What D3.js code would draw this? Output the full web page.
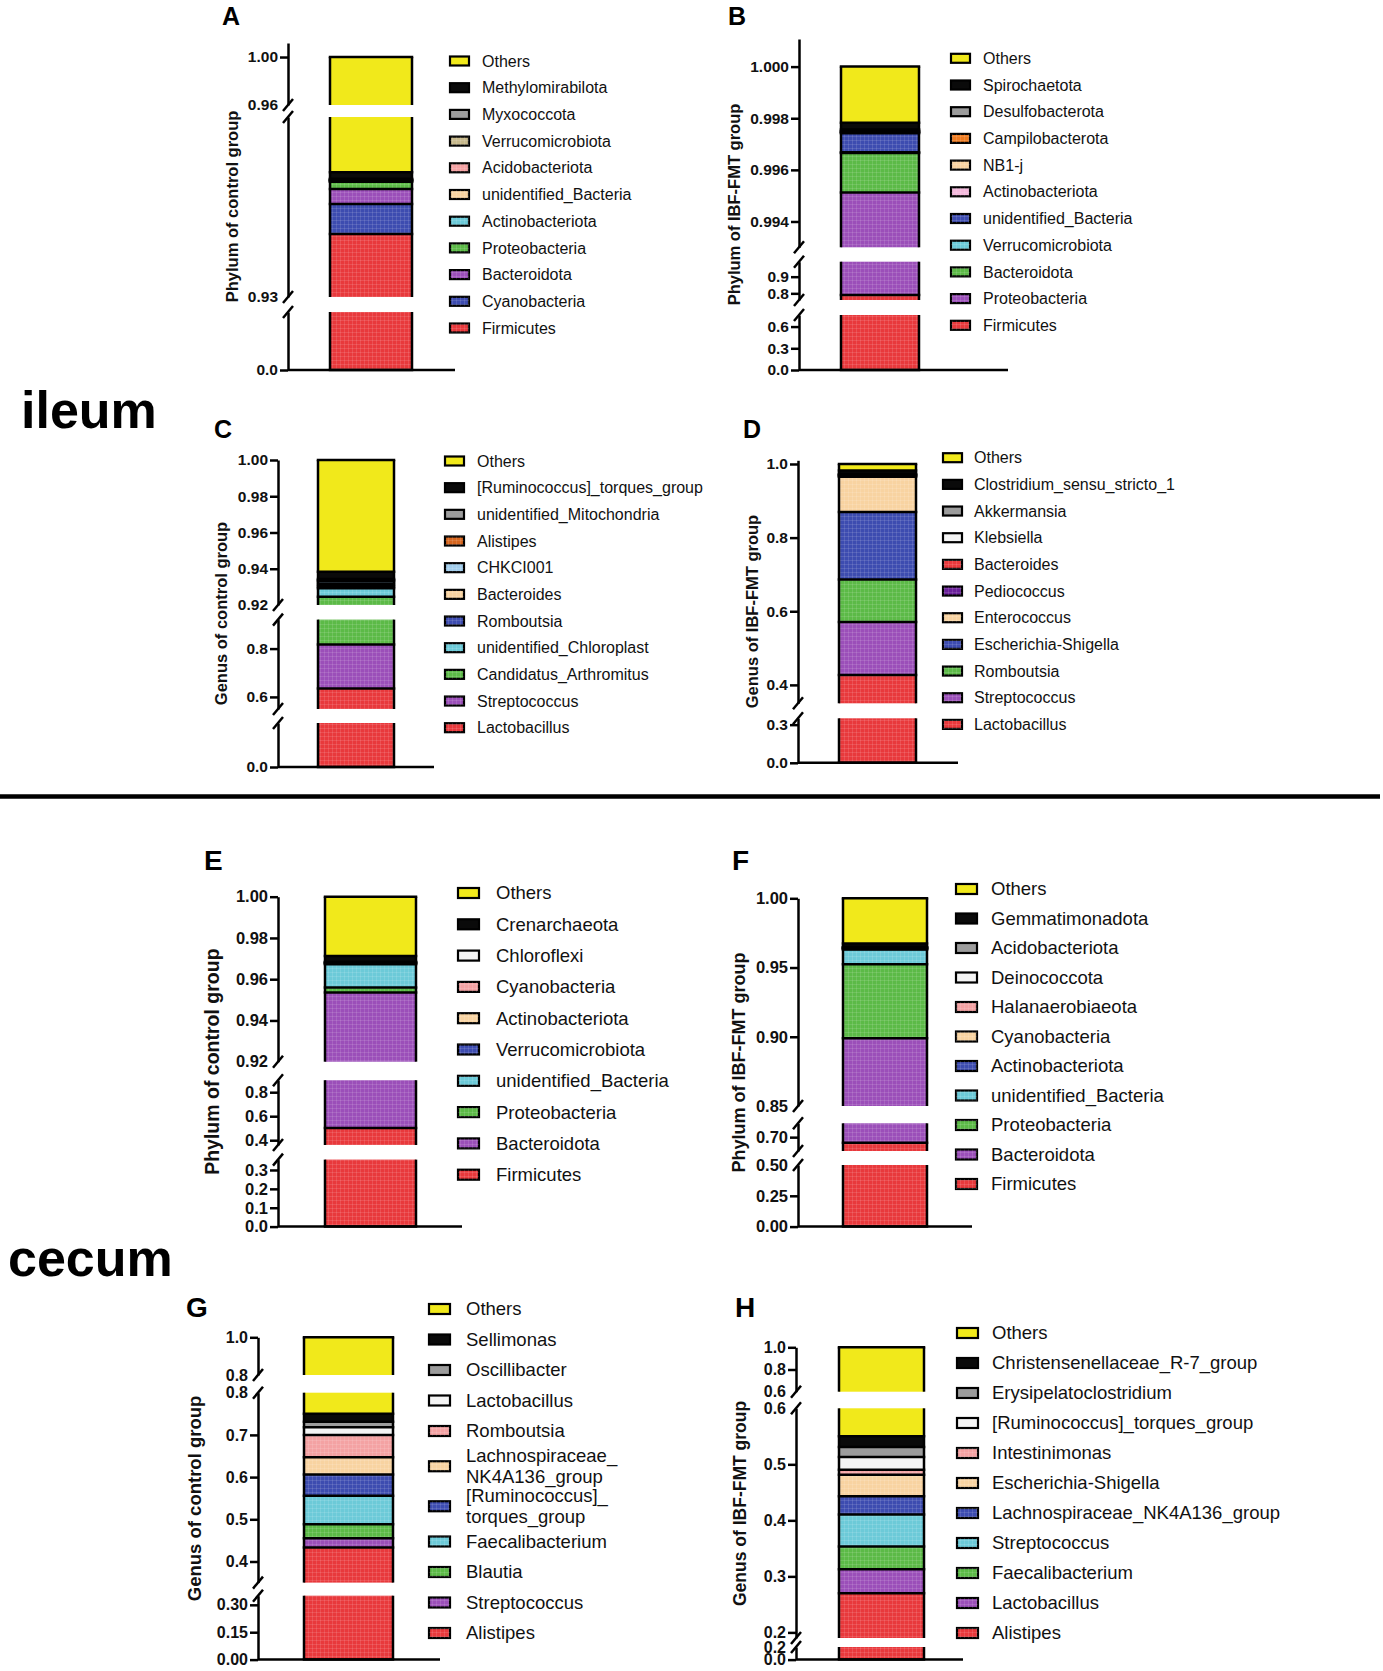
<!DOCTYPE html>
<html lang="en">
<head>
    <meta charset="utf-8">
    <style>
        body { margin: 0; background: #fff; }
        svg { display: block; }
    </style>
</head>
<body>
    <svg></svg>
    <script src="https://cdn.jsdelivr.net/npm/d3@7/dist/d3.min.js"></script>
    <script>
        /************************************************************************************
        * Data (stack order bottom -> top, legend is drawn top -> bottom)
        ************************************************************************************/
        // A: ileum, phylum, control
        const aCategories = ["Firmicutes", "Cyanobacteria", "Bacteroidota", "Proteobacteria", "Actinobacteriota",
            "unidentified_Bacteria", "Acidobacteriota", "Verrucomicrobiota", "Myxococcota", "Methylomirabilota", "Others"];
        const aValues = [0.9405, 0.0050, 0.0025, 0.0012, 0.0001, 0.0001, 0.0001, 0.0001, 0.0001, 0.0011, 0.0492];
        const aTickLabels = [["1.00", "0.96"], ["0.93"], ["0.0"]];

        // B: ileum, phylum, IBF-FMT
        const bCategories = ["Firmicutes", "Proteobacteria", "Bacteroidota", "Verrucomicrobiota", "unidentified_Bacteria",
            "Actinobacteriota", "NB1-j", "Campilobacterota", "Desulfobacterota", "Spirochaetota", "Others"];
        const bValues = [0.79, 0.20512, 0.00153, 0.00003, 0.00074, 0.00003, 0.00003, 0.00003, 0.00005, 0.00027, 0.00217];
        const bTickLabels = [["1.000", "0.998", "0.996", "0.994"], ["0.9", "0.8"], ["0.6", "0.3", "0.0"]];

        // C: ileum, genus, control
        const cCategories = ["Lactobacillus", "Streptococcus", "Candidatus_Arthromitus", "unidentified_Chloroplast",
            "Romboutsia", "Bacteroides", "CHKCI001", "Alistipes", "unidentified_Mitochondria",
            "[Ruminococcus]_torques_group", "Others"];
        const cValues = [0.635, 0.1816, 0.1080, 0.0046, 0.0012, 0.0012, 0.0014, 0.0006, 0.0008, 0.0040, 0.0616];
        const cTickLabels = [["1.00", "0.98", "0.96", "0.94", "0.92"], ["0.8", "0.6"], ["0.0"]];

        // D: ileum, genus, IBF-FMT
        const dCategories = ["Lactobacillus", "Streptococcus", "Romboutsia", "Escherichia-Shigella", "Enterococcus",
            "Pediococcus", "Bacteroides", "Klebsiella", "Akkermansia", "Clostridium_sensu_stricto_1", "Others"];
        const dValues = [0.427, 0.144, 0.115, 0.1837, 0.0958, 0.002, 0.002, 0.002, 0.002, 0.0085, 0.018];
        const dTickLabels = [["1.0", "0.8", "0.6", "0.4"], ["0.3", "0.0"]];

        // E: cecum, phylum, control
        const eCategories = ["Firmicutes", "Bacteroidota", "Proteobacteria", "unidentified_Bacteria", "Verrucomicrobiota",
            "Actinobacteriota", "Cyanobacteria", "Chloroflexi", "Crenarchaeota", "Others"];
        const eValues = [0.5025, 0.4510, 0.0025, 0.0113, 0.0003, 0.0003, 0.0003, 0.0003, 0.0028, 0.0287];
        const eTickLabels = [["1.00", "0.98", "0.96", "0.94", "0.92"], ["0.8", "0.6", "0.4"], ["0.3", "0.2", "0.1", "0.0"]];

        // F: cecum, phylum, IBF-FMT
        const fCategories = ["Firmicutes", "Bacteroidota", "Proteobacteria", "unidentified_Bacteria", "Actinobacteriota",
            "Cyanobacteria", "Halanaerobiaeota", "Deinococcota", "Acidobacteriota", "Gemmatimonadota", "Others"];
        const fValues = [0.680, 0.219, 0.0534, 0.0106, 0.0004, 0.0004, 0.0004, 0.0004, 0.0004, 0.0023, 0.0327];
        const fTickLabels = [["1.00", "0.95", "0.90", "0.85"], ["0.70"], ["0.50", "0.25", "0.00"]];

        // G: cecum, genus, control
        const gCategories = ["Alistipes", "Streptococcus", "Blautia", "Faecalibacterium", "[Ruminococcus]_torques_group",
            "Lachnospiraceae_NK4A136_group", "Romboutsia", "Lactobacillus", "Oscillibacter", "Sellimonas", "Others"];
        const gValues = [0.433, 0.022, 0.033, 0.068, 0.050, 0.041, 0.053, 0.018, 0.013, 0.019, 0.250];
        const gTickLabels = [["1.0", "0.8"], ["0.8", "0.7", "0.6", "0.5", "0.4"], ["0.30", "0.15", "0.00"]];

        // H: cecum, genus, IBF-FMT
        const hCategories = ["Alistipes", "Lactobacillus", "Faecalibacterium", "Streptococcus",
            "Lachnospiraceae_NK4A136_group", "Escherichia-Shigella", "Intestinimonas", "[Ruminococcus]_torques_group",
            "Erysipelatoclostridium", "Christensenellaceae_R-7_group", "Others"];
        const hValues = [0.270, 0.0425, 0.041, 0.057, 0.0325, 0.0385, 0.009, 0.0225, 0.018, 0.019, 0.450];
        const hTickLabels = [["1.0", "0.8", "0.6"], ["0.6", "0.5", "0.4", "0.3", "0.2"], ["0.2", "0.0"]];

        const axisTitles = ["Phylum of control group", "Phylum of IBF-FMT group", "Genus of control group",
            "Genus of IBF-FMT group"];

        /************************************************************************************
        * Styles
        ************************************************************************************/
        const FONT = "'Liberation Sans', Arial, Helvetica, sans-serif";
        const col = {
            red: "#e8393c", purple: "#9b4fb9", blue: "#3d4cb0", green: "#5cba47", cyan: "#6ccad8",
            peach: "#f8d3a1", pink: "#f4a2a3", khaki: "#c7b98c", gray: "#9c9c9c", black: "#0a0a0a",
            yellow: "#f1e91b", orange: "#ee7a1f", rust: "#d6661f", sky: "#a2cdec", lilac: "#f4b9dc",
            violet: "#6a1f9a", white: "#f4f4f4"
        };
        const plain = new Set([col.yellow, col.black, col.white, col.gray]);
        const std = [col.red, col.purple, col.green, col.cyan, col.blue, col.peach, col.pink, col.white, col.gray, col.black, col.yellow];

        /************************************************************************************
        * Panel layout (pixel geometry only)
        ************************************************************************************/
        const small = { fs: 16, tickFs: 15.5, titleFs: 16.5, letterFs: 25, swW: 21, swH: 9 };
        const large = { fs: 18.5, tickFs: 16.5, titleFs: 18, letterFs: 28, swW: 23, swH: 10 };

        const panels = [
            { ...small, letter: "A", cats: aCategories, vals: aValues, ticks: aTickLabels, title: axisTitles[0],
              colors: [col.red, col.blue, col.purple, col.green, col.cyan, col.peach, col.pink, col.khaki, col.gray, col.black, col.yellow],
              lx: 222, ly: 25, axisX: 288, barX: [330, 412], xEnd: 455, titleX: 232,
              segs: [{ dom: [0.96, 1.0117], px: [105, 43] }, { dom: [0.93, 0.96], px: [297, 117] }, { dom: [0, 0.93], px: [370, 312] }],
              legX: 449, legTextX: 482, legY: 61, legStep: 26.7 },
            { ...small, letter: "B", cats: bCategories, vals: bValues, ticks: bTickLabels, title: axisTitles[1],
              colors: [col.red, col.purple, col.green, col.cyan, col.blue, col.lilac, col.peach, col.orange, col.gray, col.black, col.yellow],
              lx: 728, ly: 25, axisX: 799, barX: [841, 919], xEnd: 1008, titleX: 734,
              segs: [{ dom: [0.993, 1.00107], px: [247.3, 39] }, { dom: [0.76, 0.99], px: [300, 261.7] }, { dom: [0, 0.76], px: [370, 315] }],
              legX: 950, legTextX: 983, legY: 58.3, legStep: 26.7 },
            { ...small, letter: "C", cats: cCategories, vals: cValues, ticks: cTickLabels, title: axisTitles[2],
              colors: [col.red, col.purple, col.green, col.cyan, col.blue, col.peach, col.sky, col.rust, col.gray, col.black, col.yellow],
              lx: 214, ly: 438, axisX: 278, barX: [318, 394], xEnd: 434, titleX: 221,
              segs: [{ dom: [0.92, 1.0], px: [605, 460] }, { dom: [0.55, 0.92], px: [709, 619.6] }, { dom: [0, 0.55], px: [767, 723] }],
              legX: 444, legTextX: 477, legY: 461, legStep: 26.67 },
            { ...small, letter: "D", cats: dCategories, vals: dValues, ticks: dTickLabels, title: axisTitles[3],
              colors: [col.red, col.purple, col.green, col.blue, col.peach, col.violet, col.red, col.white, col.gray, col.black, col.yellow],
              lx: 743, ly: 438, axisX: 798, barX: [839, 916], xEnd: 958, titleX: 752,
              segs: [{ dom: [0.35, 1.01], px: [703.3, 460.3] }, { dom: [0, 0.35], px: [762.8, 718.3] }],
              legX: 942, legTextX: 974, legY: 457.7, legStep: 26.67 },
            { ...large, letter: "E", cats: eCategories, vals: eValues, ticks: eTickLabels, title: axisTitles[0],
              colors: [col.red, col.purple, col.green, col.cyan, col.blue, col.peach, col.pink, col.white, col.black, col.yellow],
              titleFs: 19.5,
              lx: 204, ly: 870, axisX: 278, barX: [325, 416], xEnd: 462, titleX: 212,
              segs: [{ dom: [0.92, 1.0], px: [1061.7, 896.7] }, { dom: [0.36, 0.9], px: [1145, 1080.2] }, { dom: [0, 0.355], px: [1226.6, 1159.6] }],
              legX: 457, legTextX: 496, legY: 893, legStep: 31.3 },
            { ...large, letter: "F", cats: fCategories, vals: fValues, ticks: fTickLabels, title: axisTitles[1],
              colors: [col.red, col.purple, col.green, col.cyan, col.blue, col.peach, col.pink, col.white, col.gray, col.black, col.yellow],
              lx: 732, ly: 870, axisX: 798, barX: [843, 927], xEnd: 972, titleX: 739,
              segs: [{ dom: [0.85, 1.0], px: [1106, 898.3] }, { dom: [0.65, 0.75], px: [1151, 1123.3] }, { dom: [0, 0.5], px: [1226.6, 1165] }],
              legX: 955, legTextX: 991, legY: 889, legStep: 29.5 },
            { ...large, letter: "G", cats: gCategories, vals: gValues, ticks: gTickLabels, title: axisTitles[2], wrap: true,
              colors: std, titleFs: 18.5, tickFs: 16,
              lx: 186, ly: 1317, axisX: 258, barX: [304, 393], xEnd: 440, titleX: 194,
              segs: [{ dom: [0.8, 1.0], px: [1375, 1337.3] }, { dom: [0.35, 0.8], px: [1582.6, 1392.7] }, { dom: [0, 0.35], px: [1659.6, 1595.7] }],
              legX: 428, legTextX: 466, legY: 1309, legStep: 30.5 },
            { ...large, letter: "H", cats: hCategories, vals: hValues, ticks: hTickLabels, title: axisTitles[3],
              colors: std, titleFs: 17.5, tickFs: 16,
              lx: 735, ly: 1317, axisX: 796, barX: [839, 924], xEnd: 963, titleX: 740,
              segs: [{ dom: [0.6, 1.0], px: [1391.7, 1347.3] }, { dom: [0.19, 0.6], px: [1638, 1408.3] }, { dom: [0, 0.2], px: [1659.6, 1647] }],
              legX: 956, legTextX: 992, legY: 1333, legStep: 30 }
        ];

        /************************************************************************************
        * Canvas
        ************************************************************************************/
        const svg = d3.select("svg").attr("width", 1383).attr("height", 1671).attr("viewBox", "0 0 1383 1671");

        // faint checked weave seen on the bar fills
        const defs = svg.append("defs");
        const weave = defs.append("pattern").attr("id", "weave")
            .attr("patternUnits", "userSpaceOnUse").attr("width", 4).attr("height", 4);
        weave.append("path").attr("d", "M0,0.5H4M0.5,0V4")
            .attr("stroke", "#fff").attr("stroke-width", 0.6).attr("stroke-opacity", 0.2);

        const SW = 2.5; // outline width

        function drawPanel(p) {
            const g = svg.append("g");
            const n = p.vals.length;
            const cum = [0];
            p.vals.forEach(v => cum.push(cum[cum.length - 1] + v));
            const last = p.segs.length - 1;
            const bw = p.barX[1] - p.barX[0];

            p.segs.forEach((s, si) => {
                const y = d3.scaleLinear().domain(s.dom).range(s.px);

                // slices clipped to this axis segment
                p.vals.forEach((v, i) => {
                    const a = Math.max(cum[i], s.dom[0]), b = Math.min(cum[i + 1], s.dom[1]);
                    if (b <= a) return;
                    g.append("rect").attr("x", p.barX[0]).attr("width", bw)
                        .attr("y", y(b)).attr("height", y(a) - y(b)).attr("fill", p.colors[i]);
                    if (!plain.has(p.colors[i])) {
                        g.append("rect").attr("x", p.barX[0]).attr("width", bw)
                            .attr("y", y(b)).attr("height", y(a) - y(b)).attr("fill", "url(#weave)");
                    }
                });

                // slice borders inside the segment
                cum.forEach(c => {
                    if (c < s.dom[0] - 1e-9 || c > s.dom[1] + 1e-9) return;
                    g.append("line").attr("x1", p.barX[0] - SW / 2).attr("x2", p.barX[1] + SW / 2)
                        .attr("y1", y(c)).attr("y2", y(c)).attr("stroke", "#000").attr("stroke-width", SW);
                });

                // bar sides
                const top = y(Math.min(cum[n], s.dom[1])), bot = y(Math.max(0, s.dom[0]));
                p.barX.forEach(x => g.append("line").attr("x1", x).attr("x2", x).attr("y1", top).attr("y2", bot)
                    .attr("stroke", "#000").attr("stroke-width", SW));

                // axis piece
                const labels = p.ticks[si];
                const ax = g.append("g").attr("transform", `translate(${p.axisX},0)`)
                    .call(d3.axisLeft(y).tickValues(labels.map(Number)).tickFormat((d, i) => labels[i])
                        .tickSize(8).tickSizeOuter(0).tickPadding(2));
                ax.attr("font-family", FONT).attr("font-size", p.tickFs);
                ax.select(".domain").attr("stroke", "#000").attr("stroke-width", SW);
                ax.selectAll(".tick line").attr("stroke", "#000").attr("stroke-width", SW)
                    .attr("opacity", d => ((si < last && Math.abs(d - s.dom[0]) < 1e-9) ||
                                           (si > 0 && Math.abs(d - s.dom[1]) < 1e-9)) ? 0 : 1);
                ax.selectAll(".tick text").attr("font-weight", "bold").attr("fill", "#111");

                // break marks
                const marks = [];
                if (si < last) marks.push(s.px[0]);
                if (si > 0) marks.push(s.px[1]);
                marks.forEach(m => g.append("line")
                    .attr("x1", p.axisX - 5).attr("y1", m + 6).attr("x2", p.axisX + 5).attr("y2", m - 6)
                    .attr("stroke", "#000").attr("stroke-width", SW));
            });

            // x axis baseline
            const baseY = p.segs[last].px[0];
            g.append("line").attr("x1", p.axisX).attr("x2", p.xEnd).attr("y1", baseY).attr("y2", baseY)
                .attr("stroke", "#000").attr("stroke-width", SW);

            // y axis title
            const midY = (p.segs[0].px[1] + baseY) / 2;
            g.append("text").attr("transform", `translate(${p.titleX},${midY}) rotate(-90)`)
                .attr("text-anchor", "middle").attr("dominant-baseline", "central")
                .attr("font-family", FONT).attr("font-weight", "bold").attr("font-size", p.titleFs)
                .attr("fill", "#111").text(p.title);

            // panel letter
            g.append("text").attr("x", p.lx).attr("y", p.ly).attr("font-family", FONT)
                .attr("font-weight", "bold").attr("font-size", p.letterFs).text(p.letter);

            // legend, top entry = last category
            let ry = p.legY, prevH = null;
            for (let i = n - 1; i >= 0; i--) {
                const name = p.cats[i];
                const lines = (p.wrap && name.length > 20)
                    ? [name.slice(0, name.indexOf("_") + 1), name.slice(name.indexOf("_") + 1)] : [name];
                const h = lines.length > 1 ? p.legStep + 9.5 : p.legStep;
                if (prevH !== null) ry += (prevH + h) / 2;
                prevH = h;
                g.append("rect").attr("x", p.legX + 1).attr("y", ry - p.swH / 2)
                    .attr("width", p.swW - 2).attr("height", p.swH)
                    .attr("fill", p.colors[i]).attr("stroke", "#000").attr("stroke-width", 2.2);
                if (!plain.has(p.colors[i])) {
                    g.append("rect").attr("x", p.legX + 1).attr("y", ry - p.swH / 2)
                        .attr("width", p.swW - 2).attr("height", p.swH).attr("fill", "url(#weave)");
                }
                const lh = 20.7;
                const t = g.append("text").attr("x", p.legTextX).attr("font-family", FONT)
                    .attr("font-size", p.fs).attr("fill", "#111");
                lines.forEach((ln, k) => t.append("tspan").attr("x", p.legTextX)
                    .attr("y", ry + (k - (lines.length - 1) / 2) * lh).attr("dy", "0.35em").text(ln));
            }
        }

        panels.forEach(drawPanel);

        /************************************************************************************
        * Section labels and divider
        ************************************************************************************/
        svg.append("text").attr("x", 21).attr("y", 428).attr("font-family", FONT)
            .attr("font-weight", "bold").attr("font-size", 52).text("ileum");
        svg.append("text").attr("x", 8).attr("y", 1276).attr("font-family", FONT)
            .attr("font-weight", "bold").attr("font-size", 52).text("cecum");
        svg.append("line").attr("x1", 0).attr("x2", 1380).attr("y1", 796.5).attr("y2", 796.5)
            .attr("stroke", "#000").attr("stroke-width", 4.5);
    </script>
</body>
</html>
